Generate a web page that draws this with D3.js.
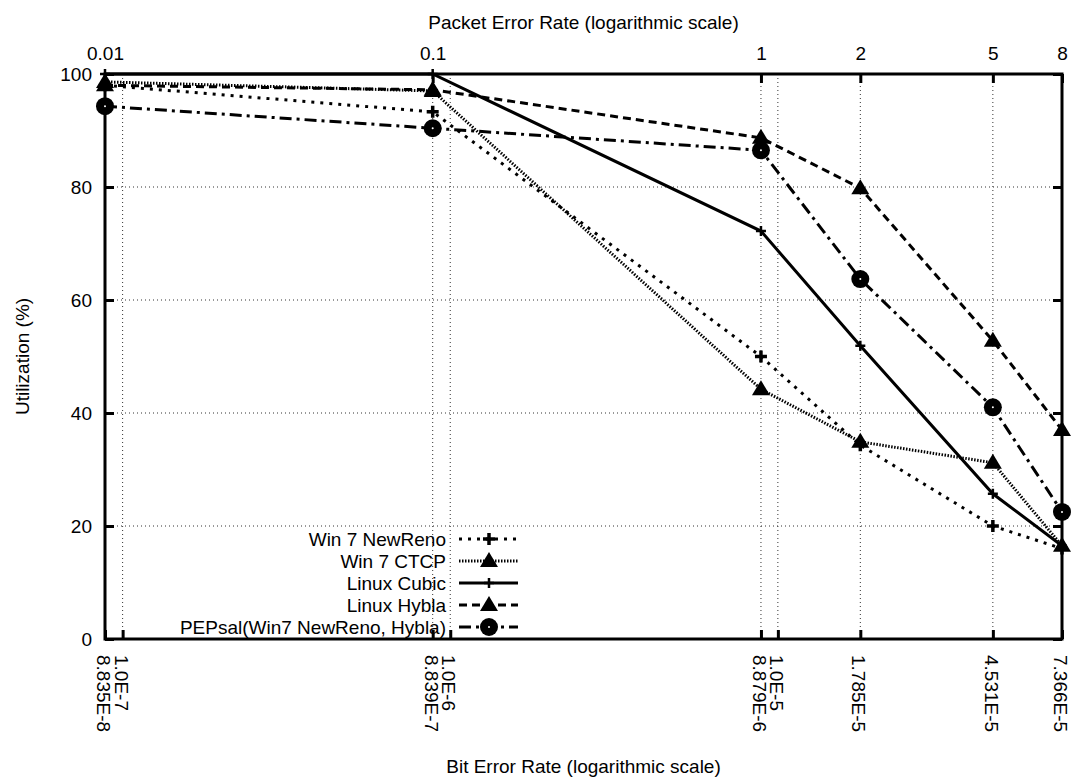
<!doctype html>
<html>
  <head>
    <style>
      body { margin: 0; background: #fff; }
      text { font-family: "Liberation Sans", Arial, sans-serif; font-size: 19px; fill: #000; }
    </style>
  </head>
  <body>
    <svg width="1071" height="778" id="content"></svg>

    <script src="https://cdnjs.cloudflare.com/ajax/libs/d3/7.8.5/d3.min.js"></script>
    <script>
      // bit error rate at each measured point (x position)
      const ber = [8.835e-8, 8.839e-7, 8.879e-6, 1.785e-5, 4.531e-5, 7.366e-5]
      // packet error rate labels for the top axis, same points
      const perLabels = ['0.01', '0.1', '1', '2', '5', '8']
      const berTicks = [8.835e-8, 1.0e-7, 8.839e-7, 1.0e-6, 8.879e-6, 1.0e-5, 1.785e-5, 4.531e-5, 7.366e-5]
      const berTickLabels = ['8.835E-8', '1.0E-7', '8.839E-7', '1.0E-6', '8.879E-6', '1.0E-5', '1.785E-5', '4.531E-5', '7.366E-5']
      const yTicks = [0, 20, 40, 60, 80, 100]

      const newReno = [98, 93.3, 50, 34.3, 20, 16]
      const ctcp = [98.6, 97, 44.2, 34.9, 31.2, 16.5]
      const cubic = [100, 100, 72.2, 51.9, 25.7, 16.5]
      const hybla = [98, 97.2, 88.7, 79.8, 52.8, 37]
      const pepsal = [94.3, 90.4, 86.5, 63.7, 41, 22.5]

      const seriesNames = ['Win 7 NewReno', 'Win 7 CTCP', 'Linux Cubic', 'Linux Hybla', 'PEPsal(Win7 NewReno, Hybla)']

      const series = [
        {name: seriesNames[0], values: newReno, dash: '3,6', marker: 'plus'},
        {name: seriesNames[1], values: ctcp, dash: '1.5,1.5', marker: 'triangle'},
        {name: seriesNames[2], values: cubic, dash: null, marker: 'smallplus'},
        {name: seriesNames[3], values: hybla, dash: '8,5', marker: 'triangle'},
        {name: seriesNames[4], values: pepsal, dash: '12,5,3,5', marker: 'circle'}
      ]

      const plotLeft = 105, plotRight = 1062, plotTop = 74, plotBottom = 639

      const svg = d3.select('#content')
      const x = d3.scaleLog().domain([ber[0], ber[ber.length - 1]]).range([plotLeft, plotRight])
      const y = d3.scaleLinear().domain([0, 100]).range([plotBottom, plotTop])

      // grid
      const grid = svg.append('g')
        .style('stroke', '#333')
        .style('stroke-width', 1)
        .style('stroke-dasharray', '1,3')
      grid.selectAll('.hgrid')
        .data(yTicks.filter(d => d > 0 && d < 100))
        .enter().append('line')
        .attr('x1', plotLeft).attr('x2', plotRight)
        .attr('y1', d => y(d)).attr('y2', d => y(d))
      grid.selectAll('.vgrid')
        .data(berTicks.slice(1, -1))
        .enter().append('line')
        .attr('x1', d => x(d)).attr('x2', d => x(d))
        .attr('y1', plotTop).attr('y2', plotBottom)

      // axes
      svg.append('g')
        .attr('transform', `translate(${plotLeft},0)`)
        .call(d3.axisLeft(y).tickValues(yTicks).tickSize(-9).tickPadding(13))
      svg.append('g')
        .attr('transform', `translate(${plotRight},0)`)
        .call(d3.axisRight(y).tickValues(yTicks).tickSize(-9).tickFormat(''))
      svg.append('g')
        .attr('transform', `translate(0,${plotTop})`)
        .call(d3.axisTop(x).tickValues(ber).tickSize(-9).tickPadding(14).tickFormat((d, i) => perLabels[i]))
      const xAxis = svg.append('g')
        .attr('transform', `translate(0,${plotBottom})`)
        .call(d3.axisBottom(x).tickValues(berTicks).tickSize(-9).tickFormat((d, i) => berTickLabels[i]))

      // BER labels run downwards
      xAxis.selectAll('text')
        .attr('x', 16)
        .attr('y', 0)
        .attr('dy', '0.45em')
        .attr('transform', 'rotate(90)')
        .style('text-anchor', 'start')

      svg.selectAll('.domain').remove()
      svg.selectAll('.tick line').style('stroke', '#000').style('stroke-width', 3)
      svg.selectAll('.tick text').style('font-size', '19px').style('font-family', '"Liberation Sans", Arial, sans-serif')

      svg.append('rect')
        .attr('x', plotLeft).attr('y', plotTop)
        .attr('width', plotRight - plotLeft).attr('height', plotBottom - plotTop)
        .style('fill', 'none').style('stroke', '#000').style('stroke-width', 3)

      // titles
      svg.append('text')
        .attr('x', (plotLeft + plotRight) / 2).attr('y', 29)
        .style('text-anchor', 'middle')
        .text('Packet Error Rate (logarithmic scale)')
      svg.append('text')
        .attr('x', (plotLeft + plotRight) / 2).attr('y', 773)
        .style('text-anchor', 'middle')
        .text('Bit Error Rate (logarithmic scale)')
      svg.append('text')
        .attr('transform', `translate(29,${(plotTop + plotBottom) / 2}) rotate(-90)`)
        .style('text-anchor', 'middle')
        .text('Utilization (%)')

      function drawMarker (g, type, cx, cy) {
        if (type === 'plus') {
          g.append('path').attr('d', `M${cx - 6},${cy}H${cx + 6}M${cx},${cy - 6}V${cy + 6}`)
            .style('stroke', '#000').style('stroke-width', 3.5).style('fill', 'none')
        } else if (type === 'smallplus') {
          g.append('path').attr('d', `M${cx - 5},${cy}H${cx + 5}M${cx},${cy - 5}V${cy + 5}`)
            .style('stroke', '#000').style('stroke-width', 2.5).style('fill', 'none')
        } else if (type === 'triangle') {
          g.append('path').attr('d', `M${cx},${cy - 9}L${cx + 9},${cy + 6}L${cx - 9},${cy + 6}Z`)
            .style('fill', '#000')
        } else if (type === 'circle') {
          g.append('circle').attr('cx', cx).attr('cy', cy).attr('r', 9).style('fill', '#000')
          g.append('circle').attr('cx', cx).attr('cy', cy).attr('r', 1).style('fill', '#fff')
        }
      }

      const line = d3.line()
        .x((d, i) => x(ber[i]))
        .y(d => y(d))

      series.forEach(s => {
        const g = svg.append('g')
        g.append('path')
          .attr('d', line(s.values))
          .style('fill', 'none')
          .style('stroke', '#000')
          .style('stroke-width', 3)
          .style('stroke-dasharray', s.dash)
        s.values.forEach((v, i) => drawMarker(g, s.marker, x(ber[i]), y(v)))
      })

      // legend
      const legend = svg.append('g')
      series.forEach((s, i) => {
        const ly = 539 + i * 22
        legend.append('text')
          .attr('x', 446).attr('y', ly).attr('dy', '0.35em')
          .style('text-anchor', 'end')
          .text(s.name)
        legend.append('path')
          .attr('d', `M459,${ly}H518`)
          .style('fill', 'none').style('stroke', '#000').style('stroke-width', 3)
          .style('stroke-dasharray', s.dash)
        drawMarker(legend, s.marker, 489, ly)
      })
    </script>
  </body>
</html>
